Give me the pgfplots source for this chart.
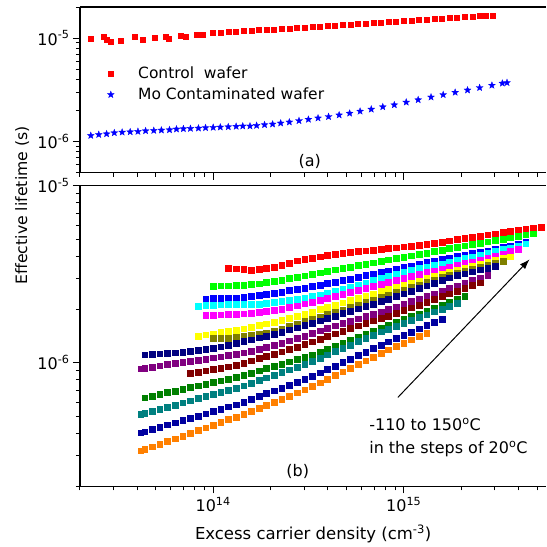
\documentclass[border=0pt]{standalone}
\usepackage{fontspec}
\setmainfont{DejaVu Sans}
\usepackage{pgfplots}
\usepackage{pgfplotstable}
\pgfplotsset{compat=1.18}
\usetikzlibrary{arrows.meta,plotmarks}

\definecolor{cR}{HTML}{FF0000}
\definecolor{cG}{HTML}{00FF00}
\definecolor{cB}{HTML}{0000FF}
\definecolor{cC}{HTML}{00FFFF}
\definecolor{cM}{HTML}{FF00FF}
\definecolor{cY}{HTML}{FFFF00}
\definecolor{cOl}{HTML}{808000}
\definecolor{cNv}{HTML}{000080}
\definecolor{cPu}{HTML}{800080}
\definecolor{cMr}{HTML}{800000}
\definecolor{cDg}{HTML}{008000}
\definecolor{cTl}{HTML}{008080}
\definecolor{cRb}{HTML}{0000A0}
\definecolor{cOr}{HTML}{FF8000}

% filled five-pointed star
\pgfdeclareplotmark{fstar}{%
  \pgfpathmoveto{\pgfpointpolar{90}{\pgfplotmarksize}}%
  \pgfpathlineto{\pgfpointpolar{126}{0.42\pgfplotmarksize}}%
  \pgfpathlineto{\pgfpointpolar{162}{\pgfplotmarksize}}%
  \pgfpathlineto{\pgfpointpolar{198}{0.42\pgfplotmarksize}}%
  \pgfpathlineto{\pgfpointpolar{234}{\pgfplotmarksize}}%
  \pgfpathlineto{\pgfpointpolar{270}{0.42\pgfplotmarksize}}%
  \pgfpathlineto{\pgfpointpolar{306}{\pgfplotmarksize}}%
  \pgfpathlineto{\pgfpointpolar{342}{0.42\pgfplotmarksize}}%
  \pgfpathlineto{\pgfpointpolar{18}{\pgfplotmarksize}}%
  \pgfpathlineto{\pgfpointpolar{54}{0.42\pgfplotmarksize}}%
  \pgfpathclose\pgfusepathqfillstroke}

% lifetime vs injection, -110 C (r) ... 150 C (or)
\pgfplotstableread{
x r g b c m yl ol nv pu mr dg tl rb or
4.169e13 nan nan nan nan nan nan nan nan 0.927e-6 nan nan 0.511e-6 0.403e-6 0.318e-6
4.365e13 nan nan nan nan nan nan nan 1.109e-6 0.933e-6 nan 0.635e-6 0.518e-6 0.408e-6 0.324e-6
4.786e13 nan nan nan nan nan nan nan 1.117e-6 0.948e-6 nan 0.650e-6 0.532e-6 0.421e-6 0.336e-6
5.248e13 nan nan nan nan nan nan nan 1.125e-6 0.962e-6 nan 0.664e-6 0.547e-6 0.434e-6 0.348e-6
5.754e13 nan nan nan nan nan nan nan 1.132e-6 0.977e-6 nan 0.679e-6 0.562e-6 0.446e-6 0.361e-6
6.310e13 nan nan nan nan nan nan nan 1.140e-6 0.991e-6 nan 0.693e-6 0.578e-6 0.459e-6 0.373e-6
6.918e13 nan nan nan nan nan nan nan 1.146e-6 1.007e-6 nan 0.710e-6 0.594e-6 0.473e-6 0.386e-6
7.586e13 nan nan nan nan nan nan nan 1.161e-6 1.021e-6 0.869e-6 0.726e-6 0.611e-6 0.486e-6 0.400e-6
8.318e13 nan nan nan 2.094e-6 nan 1.419e-6 nan 1.178e-6 1.038e-6 0.885e-6 0.741e-6 0.628e-6 0.501e-6 0.415e-6
9.120e13 nan nan 2.301e-6 2.109e-6 1.854e-6 1.440e-6 nan 1.191e-6 1.052e-6 0.902e-6 0.759e-6 0.646e-6 0.516e-6 0.430e-6
1.000e14 nan 2.716e-6 2.307e-6 2.118e-6 1.862e-6 1.462e-6 1.371e-6 1.208e-6 1.069e-6 0.918e-6 0.774e-6 0.664e-6 0.531e-6 0.445e-6
1.096e14 nan 2.723e-6 2.312e-6 2.128e-6 1.871e-6 1.484e-6 1.374e-6 1.233e-6 1.084e-6 0.933e-6 0.793e-6 0.682e-6 0.547e-6 0.460e-6
1.202e14 3.436e-6 2.729e-6 2.317e-6 2.138e-6 1.879e-6 1.507e-6 1.380e-6 1.262e-6 1.102e-6 0.951e-6 0.809e-6 0.702e-6 0.564e-6 0.478e-6
1.318e14 3.396e-6 2.735e-6 2.323e-6 2.148e-6 1.888e-6 1.531e-6 1.390e-6 1.291e-6 1.117e-6 0.968e-6 0.828e-6 0.721e-6 0.579e-6 0.494e-6
1.445e14 3.365e-6 2.754e-6 2.344e-6 2.148e-6 1.897e-6 1.556e-6 1.409e-6 1.321e-6 1.138e-6 0.993e-6 0.849e-6 0.743e-6 0.600e-6 0.513e-6
1.585e14 3.342e-6 2.780e-6 2.377e-6 2.143e-6 1.905e-6 1.592e-6 1.429e-6 1.352e-6 1.164e-6 1.026e-6 0.875e-6 0.769e-6 0.622e-6 0.533e-6
1.738e14 3.381e-6 2.799e-6 2.410e-6 2.143e-6 1.923e-6 1.626e-6 1.449e-6 1.384e-6 1.191e-6 1.059e-6 0.902e-6 0.796e-6 0.646e-6 0.556e-6
1.905e14 3.428e-6 2.844e-6 2.443e-6 2.168e-6 1.954e-6 1.660e-6 1.472e-6 1.416e-6 1.222e-6 1.089e-6 0.929e-6 0.824e-6 0.670e-6 0.578e-6
2.089e14 3.475e-6 2.891e-6 2.477e-6 2.193e-6 1.982e-6 1.702e-6 1.507e-6 1.452e-6 1.256e-6 1.122e-6 0.955e-6 0.853e-6 0.695e-6 0.601e-6
2.291e14 3.573e-6 2.938e-6 2.512e-6 2.223e-6 2.014e-6 1.746e-6 1.552e-6 1.493e-6 1.291e-6 1.156e-6 0.984e-6 0.883e-6 0.721e-6 0.625e-6
2.512e14 3.664e-6 2.992e-6 2.559e-6 2.254e-6 2.056e-6 1.791e-6 1.603e-6 1.535e-6 1.330e-6 1.191e-6 1.014e-6 0.914e-6 0.748e-6 0.650e-6
2.754e14 3.767e-6 3.048e-6 2.606e-6 2.291e-6 2.104e-6 1.837e-6 1.656e-6 1.581e-6 1.371e-6 1.227e-6 1.045e-6 0.946e-6 0.776e-6 0.678e-6
3.020e14 3.846e-6 3.105e-6 2.649e-6 2.333e-6 2.158e-6 1.888e-6 1.710e-6 1.629e-6 1.416e-6 1.271e-6 1.076e-6 0.979e-6 0.805e-6 0.705e-6
3.311e14 3.908e-6 3.170e-6 2.698e-6 2.371e-6 2.208e-6 1.936e-6 1.762e-6 1.679e-6 1.466e-6 1.315e-6 1.112e-6 1.019e-6 0.838e-6 0.735e-6
3.631e14 3.981e-6 3.228e-6 2.748e-6 2.415e-6 2.265e-6 2.000e-6 1.816e-6 1.730e-6 1.517e-6 1.361e-6 1.156e-6 1.062e-6 0.877e-6 0.771e-6
3.981e14 4.046e-6 3.289e-6 2.805e-6 2.477e-6 2.323e-6 2.061e-6 1.875e-6 1.782e-6 1.570e-6 1.409e-6 1.202e-6 1.109e-6 0.916e-6 0.809e-6
4.365e14 4.111e-6 3.357e-6 2.864e-6 2.535e-6 2.382e-6 2.123e-6 1.932e-6 1.841e-6 1.622e-6 1.459e-6 1.250e-6 1.159e-6 0.959e-6 0.849e-6
4.786e14 4.159e-6 3.420e-6 2.924e-6 2.600e-6 2.438e-6 2.188e-6 1.995e-6 1.901e-6 1.671e-6 1.510e-6 1.297e-6 1.208e-6 1.005e-6 0.891e-6
5.248e14 4.207e-6 3.483e-6 2.979e-6 2.667e-6 2.500e-6 2.254e-6 2.061e-6 1.959e-6 1.722e-6 1.563e-6 1.349e-6 1.262e-6 1.052e-6 0.935e-6
5.754e14 4.256e-6 3.548e-6 3.041e-6 2.742e-6 2.564e-6 2.323e-6 2.128e-6 2.018e-6 1.774e-6 1.622e-6 1.403e-6 1.318e-6 1.102e-6 0.979e-6
6.310e14 4.305e-6 3.614e-6 3.112e-6 2.825e-6 2.636e-6 2.393e-6 2.203e-6 2.080e-6 1.828e-6 1.675e-6 1.459e-6 1.374e-6 1.151e-6 1.028e-6
6.918e14 4.345e-6 3.681e-6 3.177e-6 2.931e-6 2.704e-6 2.460e-6 2.275e-6 2.148e-6 1.888e-6 1.730e-6 1.517e-6 1.435e-6 1.205e-6 1.079e-6
7.586e14 4.385e-6 3.750e-6 3.243e-6 3.027e-6 2.780e-6 2.529e-6 2.350e-6 2.218e-6 1.945e-6 1.782e-6 1.574e-6 1.496e-6 1.262e-6 1.132e-6
8.318e14 4.436e-6 3.819e-6 3.319e-6 3.105e-6 2.858e-6 2.606e-6 2.427e-6 2.291e-6 2.004e-6 1.841e-6 1.637e-6 1.552e-6 1.315e-6 1.183e-6
9.120e14 4.477e-6 3.882e-6 3.396e-6 3.177e-6 2.931e-6 2.679e-6 2.506e-6 2.371e-6 2.075e-6 1.905e-6 1.698e-6 1.611e-6 1.371e-6 1.236e-6
1.000e15 4.529e-6 3.954e-6 3.467e-6 3.258e-6 3.013e-6 2.754e-6 2.588e-6 2.455e-6 2.143e-6 1.977e-6 1.762e-6 1.671e-6 1.432e-6 1.291e-6
1.096e15 4.571e-6 4.027e-6 3.540e-6 3.334e-6 3.097e-6 2.831e-6 2.673e-6 2.541e-6 2.218e-6 2.051e-6 1.828e-6 1.734e-6 1.493e-6 1.349e-6
1.202e15 4.624e-6 4.093e-6 3.614e-6 3.412e-6 3.177e-6 2.911e-6 2.761e-6 2.630e-6 2.296e-6 2.123e-6 1.897e-6 1.803e-6 1.556e-6 1.409e-6
1.318e15 4.677e-6 4.178e-6 3.690e-6 3.483e-6 3.251e-6 2.992e-6 2.851e-6 2.723e-6 2.371e-6 2.203e-6 1.968e-6 1.871e-6 1.626e-6 1.472e-6
1.445e15 4.732e-6 4.256e-6 3.758e-6 3.556e-6 3.319e-6 3.076e-6 2.944e-6 2.818e-6 2.455e-6 2.286e-6 2.046e-6 1.941e-6 1.694e-6 nan
1.585e15 4.808e-6 4.345e-6 3.837e-6 3.631e-6 3.388e-6 3.170e-6 3.034e-6 2.917e-6 2.541e-6 2.371e-6 2.123e-6 2.014e-6 1.766e-6 nan
1.738e15 4.898e-6 4.436e-6 3.917e-6 3.715e-6 3.475e-6 3.258e-6 3.126e-6 3.027e-6 2.630e-6 2.455e-6 2.203e-6 2.089e-6 nan nan
1.905e15 4.977e-6 4.508e-6 3.990e-6 3.802e-6 3.556e-6 3.350e-6 3.221e-6 3.112e-6 2.723e-6 2.547e-6 2.286e-6 2.168e-6 nan nan
2.089e15 5.058e-6 4.592e-6 4.064e-6 3.890e-6 3.639e-6 3.451e-6 3.319e-6 3.192e-6 2.825e-6 2.642e-6 2.371e-6 nan nan nan
2.291e15 5.140e-6 4.667e-6 4.150e-6 3.981e-6 3.724e-6 3.540e-6 3.404e-6 3.266e-6 2.924e-6 2.742e-6 nan nan nan nan
2.512e15 5.212e-6 4.753e-6 4.227e-6 4.074e-6 3.819e-6 3.631e-6 3.483e-6 3.350e-6 3.027e-6 2.838e-6 nan nan nan nan
2.754e15 5.297e-6 4.831e-6 4.305e-6 4.178e-6 3.908e-6 3.715e-6 3.565e-6 3.428e-6 3.126e-6 nan nan nan nan nan
3.020e15 5.370e-6 4.920e-6 4.395e-6 4.266e-6 4.027e-6 3.802e-6 3.648e-6 3.516e-6 nan nan nan nan nan nan
3.311e15 5.458e-6 5.012e-6 4.487e-6 4.365e-6 4.140e-6 3.890e-6 3.733e-6 nan nan nan nan nan nan nan
3.631e15 5.534e-6 5.093e-6 4.581e-6 4.467e-6 4.266e-6 3.981e-6 nan nan nan nan nan nan nan nan
3.981e15 5.623e-6 5.188e-6 4.677e-6 4.560e-6 4.385e-6 nan nan nan nan nan nan nan nan nan
4.365e15 5.702e-6 5.284e-6 4.786e-6 4.710e-6 nan nan nan nan nan nan nan nan nan nan
4.786e15 5.781e-6 5.370e-6 nan nan nan nan nan nan nan nan nan nan nan nan
5.248e15 5.861e-6 nan nan nan nan nan nan nan nan nan nan nan nan nan
}\tempdata

\begin{document}
\begin{tikzpicture}
\begin{axis}[name=top, at={(0pt,314pt)}, anchor=south west,
  scale only axis, width=467pt, height=166pt,
  xmode=log, ymode=log, xmin=2e13, xmax=5.6e15, ymin=5e-7, ymax=2e-5,
  axis x line=box, axis y line=left,
  axis line style={-, line width=1.3pt},
  tick align=outside, xtick pos=left, ytick pos=left,
  major tick length=7pt, minor tick length=4pt,
  tick style={black, line width=0.9pt},
  xtick={1e14,1e15}, xticklabels={},
  minor xtick={2e13,3e13,4e13,5e13,6e13,7e13,8e13,9e13,2e14,3e14,4e14,5e14,6e14,7e14,8e14,9e14,2e15,3e15,4e15,5e15},
  ytick={1e-6,1e-5},
  yticklabels={10\textsuperscript{-6},10\textsuperscript{-5}},
  minor ytick={5e-7,6e-7,7e-7,8e-7,9e-7,2e-6,3e-6,4e-6,5e-6,6e-6,7e-6,8e-6,9e-6,2e-5},
  tick label style={font=\fontsize{16}{19}\selectfont},
  legend cell align=left,
  legend style={draw=none, fill=none, at={(0.052,0.665)}, anchor=north west,
    font=\fontsize{15.5}{18}\selectfont, row sep=4pt,
    /tikz/every odd column/.append style={column sep=22pt}}]
\addplot[only marks, mark=square*, mark size=2.5pt, color=cR] coordinates {
(2.28e13,9.85e-6) (2.68e13,1.023e-5) (2.76e13,9.70e-6) (2.90e13,9.14e-6) (3.26e13,9.35e-6)
(3.87e13,1.038e-5) (4.29e13,9.63e-6) (4.92e13,1.000e-5) (5.61e13,1.038e-5) (5.85e13,9.85e-6)
(6.78e13,1.062e-5) (7.19e13,1.038e-5) (8.20e13,1.086e-5) (8.85e13,1.086e-5) (1.000e14,1.119e-5)
(1.096e14,1.132e-5) (1.202e14,1.144e-5) (1.318e14,1.156e-5) (1.445e14,1.169e-5) (1.585e14,1.181e-5)
(1.738e14,1.194e-5) (1.905e14,1.207e-5) (2.089e14,1.220e-5) (2.291e14,1.233e-5) (2.512e14,1.247e-5)
(2.754e14,1.260e-5) (3.020e14,1.274e-5) (3.311e14,1.288e-5) (3.631e14,1.302e-5) (3.981e14,1.316e-5)
(4.365e14,1.330e-5) (4.786e14,1.345e-5) (5.248e14,1.359e-5) (5.754e14,1.374e-5) (6.310e14,1.389e-5)
(6.918e14,1.404e-5) (7.586e14,1.419e-5) (8.318e14,1.434e-5) (9.120e14,1.450e-5) (1.000e15,1.466e-5)
(1.096e15,1.482e-5) (1.202e15,1.498e-5) (1.318e15,1.514e-5) (1.445e15,1.530e-5) (1.585e15,1.547e-5)
(1.738e15,1.564e-5) (1.905e15,1.581e-5) (2.089e15,1.597e-5) (2.291e15,1.615e-5) (2.512e15,1.633e-5)
(2.70e15,1.648e-5) (2.94e15,1.663e-5)};
\addlegendentry{Control~ wafer}
\addplot[only marks, mark=fstar, mark size=3.6pt, color=cB, mark options={fill=cB, line width=0.3pt}] coordinates {
(2.28e13,1.145e-6) (2.51e13,1.170e-6) (2.76e13,1.188e-6) (3.03e13,1.216e-6) (3.33e13,1.233e-6)
(3.67e13,1.242e-6) (4.03e13,1.253e-6) (4.42e13,1.271e-6) (4.88e13,1.280e-6) (5.35e13,1.291e-6)
(5.90e13,1.300e-6) (6.42e13,1.321e-6) (6.98e13,1.330e-6) (7.60e13,1.339e-6) (8.37e13,1.349e-6)
(9.12e13,1.361e-6) (1.00e14,1.371e-6) (1.09e14,1.380e-6) (1.20e14,1.390e-6) (1.32e14,1.403e-6)
(1.43e14,1.413e-6) (1.56e14,1.413e-6) (1.69e14,1.432e-6) (1.86e14,1.455e-6) (2.05e14,1.476e-6)
(2.26e14,1.510e-6) (2.51e14,1.545e-6) (2.82e14,1.592e-6) (3.16e14,1.641e-6) (3.55e14,1.690e-6)
(4.03e14,1.742e-6) (4.58e14,1.807e-6) (5.20e14,1.879e-6) (5.90e14,1.965e-6) (6.75e14,2.056e-6)
(7.76e14,2.168e-6) (8.92e14,2.265e-6) (1.03e15,2.404e-6) (1.19e15,2.535e-6) (1.39e15,2.692e-6)
(1.61e15,2.838e-6) (1.86e15,2.992e-6) (2.16e15,3.148e-6) (2.50e15,3.319e-6) (2.90e15,3.500e-6)
(3.29e15,3.664e-6) (3.48e15,3.715e-6)};
\addlegendentry{Mo Contaminated wafer}
\node[font=\fontsize{16}{19}\selectfont] at (rel axis cs:0.4925,0.068) {(a)};
\end{axis}

\begin{axis}[name=bot, at={(0pt,0pt)}, anchor=south west,
  scale only axis, width=467pt, height=301pt,
  xmode=log, ymode=log, xmin=2e13, xmax=5.6e15, ymin=2e-7, ymax=1e-5,
  axis x line=box, axis y line=left,
  axis line style={-, line width=1.3pt},
  tick align=outside, xtick pos=left, ytick pos=left,
  major tick length=7pt, minor tick length=4pt,
  tick style={black, line width=0.9pt},
  xtick={1e14,1e15},
  xticklabels={10\textsuperscript{14},10\textsuperscript{15}},
  minor xtick={2e13,3e13,4e13,5e13,6e13,7e13,8e13,9e13,2e14,3e14,4e14,5e14,6e14,7e14,8e14,9e14,2e15,3e15,4e15,5e15},
  ytick={1e-6,1e-5},
  yticklabels={10\textsuperscript{-6},10\textsuperscript{-5}},
  minor ytick={2e-7,3e-7,4e-7,5e-7,6e-7,7e-7,8e-7,9e-7,2e-6,3e-6,4e-6,5e-6,6e-6,7e-6,8e-6,9e-6},
  tick label style={font=\fontsize{16}{19}\selectfont},
  xlabel={Excess carrier density (cm\textsuperscript{-3})},
  xlabel style={at={(axis description cs:0.5,-0.176)}, anchor=base, font=\fontsize{16.5}{20}\selectfont},
  ylabel={Effective lifetime (s)},
  ylabel style={at={(axis description cs:-0.124,0.935)}, anchor=center, font=\fontsize{15.7}{19}\selectfont},
  every axis plot/.append style={only marks, mark=square*, mark size=2.85pt}]
\addplot[color=cR] table[x=x,y=r] {\tempdata};
\addplot[color=cG] table[x=x,y=g] {\tempdata};
\addplot[color=cB] table[x=x,y=b] {\tempdata};
\addplot[color=cC] table[x=x,y=c] {\tempdata};
\addplot[color=cM] table[x=x,y=m] {\tempdata};
\addplot[color=cY] table[x=x,y=yl] {\tempdata};
\addplot[color=cOl] table[x=x,y=ol] {\tempdata};
\addplot[color=cNv] table[x=x,y=nv] {\tempdata};
\addplot[color=cPu] table[x=x,y=pu] {\tempdata};
\addplot[color=cMr] table[x=x,y=mr] {\tempdata};
\addplot[color=cDg] table[x=x,y=dg] {\tempdata};
\addplot[color=cTl] table[x=x,y=tl] {\tempdata};
\addplot[color=cRb] table[x=x,y=rb] {\tempdata};
\addplot[color=cOr] table[x=x,y=or] {\tempdata};
\draw[-{Latex[length=10pt,width=7pt]}, line width=1pt] (axis cs:9.31e14,6.37e-7) -- (axis cs:4.57e15,3.84e-6);
\node[anchor=west, font=\fontsize{16}{19}\selectfont] at (axis cs:6.32e14,4.48e-7) {-110 to 150\textsuperscript{o}C};
\node[anchor=west, font=\fontsize{16}{19}\selectfont] at (axis cs:6.32e14,3.24e-7) {in the steps of 20\textsuperscript{o}C};
\node[font=\fontsize{16}{19}\selectfont] at (rel axis cs:0.467,0.051) {(b)};
\end{axis}
\path (-80pt,-60pt) rectangle (467pt,487pt);
\end{tikzpicture}
\end{document}
